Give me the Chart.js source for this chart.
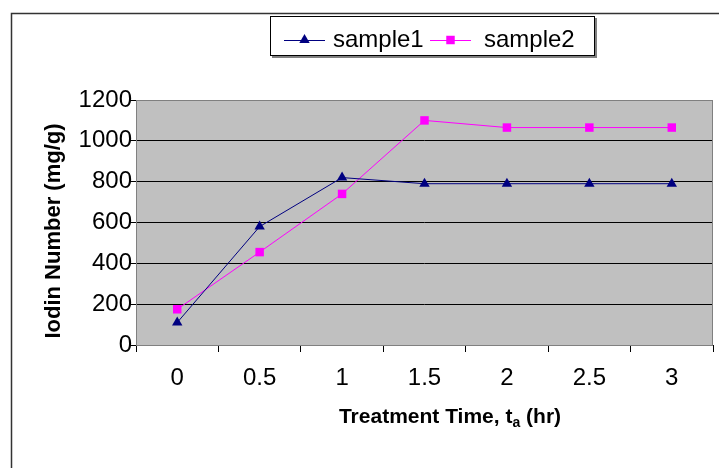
<!DOCTYPE html>
<html lang="en">
<head>
<meta charset="UTF-8">
<title>Iodin Number vs Treatment Time</title>
<script src="https://cdn.jsdelivr.net/npm/chart.js"></script>
<style>
    html, body { margin: 0; padding: 0; background: #fff; }
    .chart-box { position: relative; width: 719px; height: 468px; }
</style>
</head>
<body>
<div class="chart-box"><canvas id="iodinChart"></canvas></div>
<script>
// Values
const treatmentTimes = ['0', '0.5', '1', '1.5', '2', '2.5', '3'];
const sample1 = [110, 580, 820, 790, 790, 790, 790];
const sample2 = [175, 455, 740, 1100, 1065, 1065, 1065];
const yTickValues = [0, 200, 400, 600, 800, 1000, 1200];

const FONT = '"Liberation Sans", Arial, sans-serif';

function drawMarker(ctx, style, x, y, r, color) {
    ctx.fillStyle = color;
    ctx.beginPath();
    if (style === 'triangle') {
        ctx.moveTo(x, y - r);
        ctx.lineTo(x + r * 0.866, y + r * 0.5);
        ctx.lineTo(x - r * 0.866, y + r * 0.5);
        ctx.closePath();
    } else {
        const s = r * Math.SQRT1_2;
        ctx.rect(x - s, y - s, 2 * s, 2 * s);
    }
    ctx.fill();
}

// Excel-like frame, grey plot area, boxed legend and axis titles
const excelLook = {
    id: 'excelLook',
    beforeDraw(chart) {
        const ctx = chart.ctx, a = chart.chartArea;
        ctx.save();
        ctx.strokeStyle = '#333';
        ctx.lineWidth = 1.5;
        ctx.beginPath();
        ctx.moveTo(11.5, chart.height + 5);
        ctx.lineTo(11.5, 13.5);
        ctx.lineTo(chart.width + 5, 13.5);
        ctx.stroke();
        ctx.fillStyle = '#c0c0c0';
        ctx.fillRect(a.left, a.top, a.right - a.left, a.bottom - a.top);
        ctx.restore();
    },
    beforeDatasetsDraw(chart) {
        const ctx = chart.ctx, a = chart.chartArea;
        ctx.save();
        ctx.strokeStyle = '#808080';
        ctx.lineWidth = 1;
        ctx.strokeRect(Math.round(a.left) + 0.5, Math.round(a.top) + 0.5,
            Math.round(a.right - a.left) - 1, Math.round(a.bottom - a.top));
        ctx.restore();
    },
    afterDraw(chart) {
        const ctx = chart.ctx;
        ctx.save();

        // legend box
        const lg = { x: 270, y: 16, w: 325, h: 40 };
        ctx.fillStyle = '#808080';
        ctx.fillRect(lg.x + 2, lg.y + 2, lg.w, lg.h);
        ctx.fillStyle = '#fff';
        ctx.fillRect(lg.x, lg.y, lg.w, lg.h);
        ctx.strokeStyle = '#000';
        ctx.lineWidth = 1;
        ctx.strokeRect(lg.x + 0.5, lg.y + 0.5, lg.w - 1, lg.h - 1);

        const itemX = [284, 430];
        const cy = 40;
        chart.data.datasets.forEach((ds, i) => {
            const x0 = itemX[i];
            ctx.strokeStyle = ds.borderColor;
            ctx.lineWidth = 1;
            ctx.beginPath();
            ctx.moveTo(x0, cy + 0.5);
            ctx.lineTo(x0 + 41, cy + 0.5);
            ctx.stroke();
            drawMarker(ctx, ds.pointStyle, x0 + 20.5, cy, 6, ds.borderColor);
            ctx.fillStyle = '#000';
            ctx.font = '24px ' + FONT;
            ctx.textAlign = 'left';
            ctx.textBaseline = 'middle';
            ctx.fillText(ds.label, x0 + 49 + (i ? 5 : 0), cy);
        });

        // y axis title
        ctx.save();
        ctx.translate(60, 231);
        ctx.rotate(-Math.PI / 2);
        ctx.font = 'bold 22px ' + FONT;
        ctx.textAlign = 'center';
        ctx.textBaseline = 'alphabetic';
        ctx.fillStyle = '#000';
        ctx.fillText('Iodin Number (mg/g)', 0, 0);
        ctx.restore();

        // x axis title with subscript
        const main = 'Treatment Time, t', sub = 'a', rest = ' (hr)';
        const mainFont = 'bold 21px ' + FONT, subFont = 'bold 14px ' + FONT;
        ctx.font = mainFont;
        const wMain = ctx.measureText(main).width, wRest = ctx.measureText(rest).width;
        ctx.font = subFont;
        const wSub = ctx.measureText(sub).width;
        let x = 450 - (wMain + wSub + wRest) / 2;
        const base = 423;
        ctx.fillStyle = '#000';
        ctx.textAlign = 'left';
        ctx.textBaseline = 'alphabetic';
        ctx.font = mainFont;
        ctx.fillText(main, x, base);
        x += wMain;
        ctx.font = subFont;
        ctx.fillText(sub, x, base + 4);
        x += wSub;
        ctx.font = mainFont;
        ctx.fillText(rest, x, base);

        ctx.restore();
    }
};

new Chart(document.getElementById('iodinChart'), {
    type: 'line',
    data: {
        labels: treatmentTimes,
        datasets: [
            {
                label: 'sample1',
                data: sample1,
                borderColor: '#000080',
                backgroundColor: '#000080',
                borderWidth: 1,
                pointStyle: 'triangle',
                pointRadius: 6,
                pointHoverRadius: 6,
                pointBorderWidth: 0,
                tension: 0
            },
            {
                label: 'sample2',
                data: sample2,
                borderColor: '#ff00ff',
                backgroundColor: '#ff00ff',
                borderWidth: 1,
                pointStyle: 'rect',
                pointRadius: 6,
                pointHoverRadius: 6,
                pointBorderWidth: 0,
                tension: 0
            }
        ]
    },
    options: {
        responsive: true,
        maintainAspectRatio: false,
        animation: false,
        layout: { padding: { top: 100, right: 2, left: 0, bottom: 0 } },
        plugins: {
            legend: { display: false },
            title: { display: false },
            tooltip: { enabled: false }
        },
        scales: {
            x: {
                offset: true,
                afterFit: s => { s.height = 123; },
                border: { display: false },
                grid: {
                    offset: true,
                    drawOnChartArea: false,
                    drawTicks: true,
                    tickLength: 7,
                    tickColor: '#000'
                },
                ticks: {
                    color: '#000',
                    padding: 12,
                    font: { family: FONT, size: 24 }
                }
            },
            y: {
                min: 0,
                max: 1200,
                afterFit: s => { s.width = 136; },
                afterBuildTicks: s => { s.ticks = yTickValues.map(v => ({ value: v })); },
                border: { display: false },
                grid: {
                    color: '#000',
                    lineWidth: 1,
                    tickLength: 6,
                    tickColor: '#000'
                },
                ticks: {
                    color: '#000',
                    padding: -2,
                    callback: v => String(v),
                    font: { family: FONT, size: 24 }
                }
            }
        }
    },
    plugins: [excelLook]
});
</script>
</body>
</html>
